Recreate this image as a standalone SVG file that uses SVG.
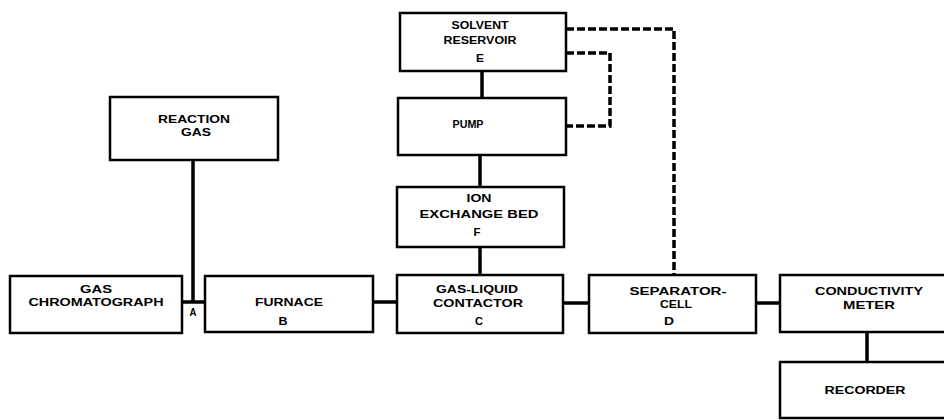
<svg xmlns="http://www.w3.org/2000/svg" width="944" height="420" viewBox="0 0 944 420">
<style>
.box{fill:#fff;stroke:#000;stroke-width:2.5}
.ln{fill:none;stroke:#000;stroke-width:3.5}
.dash{fill:none;stroke:#000;stroke-width:3.5;stroke-dasharray:8 3}
text{font-family:"Liberation Sans",Arial,sans-serif;font-weight:bold;font-size:11.5px;text-anchor:middle;fill:#000}
</style>
<rect width="944" height="420" fill="#fff"/>
<g id="connectors">
<path class="ln" d="M193 160V302"/>
<path class="ln" d="M182 302H205"/>
<path class="ln" d="M373 302H397"/>
<path class="ln" d="M563 303H589"/>
<path class="ln" d="M756 303H780"/>
<path class="ln" d="M867 332V362"/>
<path class="ln" d="M482 71V98"/>
<path class="ln" d="M480 155V187"/>
<path class="ln" d="M480 247V275"/>
<path class="dash" d="M566 29H674V275"/>
<path class="dash" d="M566 53H610V126H566"/>
</g>
<g id="reaction-gas">
<rect class="box" x="110" y="97" width="168" height="63"/>
<text x="194" y="123" textLength="72" lengthAdjust="spacingAndGlyphs">REACTION</text>
<text x="196" y="136" textLength="30" lengthAdjust="spacingAndGlyphs">GAS</text>
</g>
<g id="gas-chromatograph">
<rect class="box" x="10" y="276" width="172" height="57"/>
<text x="96" y="293" textLength="32" lengthAdjust="spacingAndGlyphs">GAS</text>
<text x="96" y="306" textLength="135" lengthAdjust="spacingAndGlyphs">CHROMATOGRAPH</text>
</g>
<g id="junction-a">
<text x="193" y="316" textLength="7" lengthAdjust="spacingAndGlyphs">A</text>
</g>
<g id="furnace">
<rect class="box" x="205" y="276" width="168" height="56"/>
<text x="289" y="306" textLength="68" lengthAdjust="spacingAndGlyphs">FURNACE</text>
<text x="283" y="325" textLength="9" lengthAdjust="spacingAndGlyphs">B</text>
</g>
<g id="gas-liquid-contactor">
<rect class="box" x="397" y="275" width="166" height="58"/>
<text x="477" y="293" textLength="82" lengthAdjust="spacingAndGlyphs">GAS-LIQUID</text>
<text x="478" y="307" textLength="90" lengthAdjust="spacingAndGlyphs">CONTACTOR</text>
<text x="479" y="325" textLength="8" lengthAdjust="spacingAndGlyphs">C</text>
</g>
<g id="separator-cell">
<rect class="box" x="589" y="275" width="167" height="58"/>
<text x="678" y="295" textLength="97" lengthAdjust="spacingAndGlyphs">SEPARATOR-</text>
<text x="676" y="308" textLength="32" lengthAdjust="spacingAndGlyphs">CELL</text>
<text x="669" y="325" textLength="10" lengthAdjust="spacingAndGlyphs">D</text>
</g>
<g id="conductivity-meter">
<rect class="box" x="780" y="275" width="170" height="57"/>
<text x="869" y="295" textLength="108" lengthAdjust="spacingAndGlyphs">CONDUCTIVITY</text>
<text x="869" y="309" textLength="52" lengthAdjust="spacingAndGlyphs">METER</text>
</g>
<g id="recorder">
<rect class="box" x="780" y="362" width="170" height="56"/>
<text x="865" y="394" textLength="81" lengthAdjust="spacingAndGlyphs">RECORDER</text>
</g>
<g id="solvent-reservoir">
<rect class="box" x="400" y="13" width="166" height="58"/>
<text x="480" y="29" textLength="57" lengthAdjust="spacingAndGlyphs">SOLVENT</text>
<text x="480" y="44" textLength="73" lengthAdjust="spacingAndGlyphs">RESERVOIR</text>
<text x="480" y="62" textLength="8" lengthAdjust="spacingAndGlyphs">E</text>
</g>
<g id="pump">
<rect class="box" x="398" y="98" width="168" height="57"/>
<text x="468" y="128" textLength="31" lengthAdjust="spacingAndGlyphs">PUMP</text>
</g>
<g id="ion-exchange-bed">
<rect class="box" x="397" y="187" width="167" height="60"/>
<text x="479" y="202" textLength="25" lengthAdjust="spacingAndGlyphs">ION</text>
<text x="479" y="218" textLength="119" lengthAdjust="spacingAndGlyphs">EXCHANGE BED</text>
<text x="477" y="236" textLength="7" lengthAdjust="spacingAndGlyphs">F</text>
</g>
</svg>
